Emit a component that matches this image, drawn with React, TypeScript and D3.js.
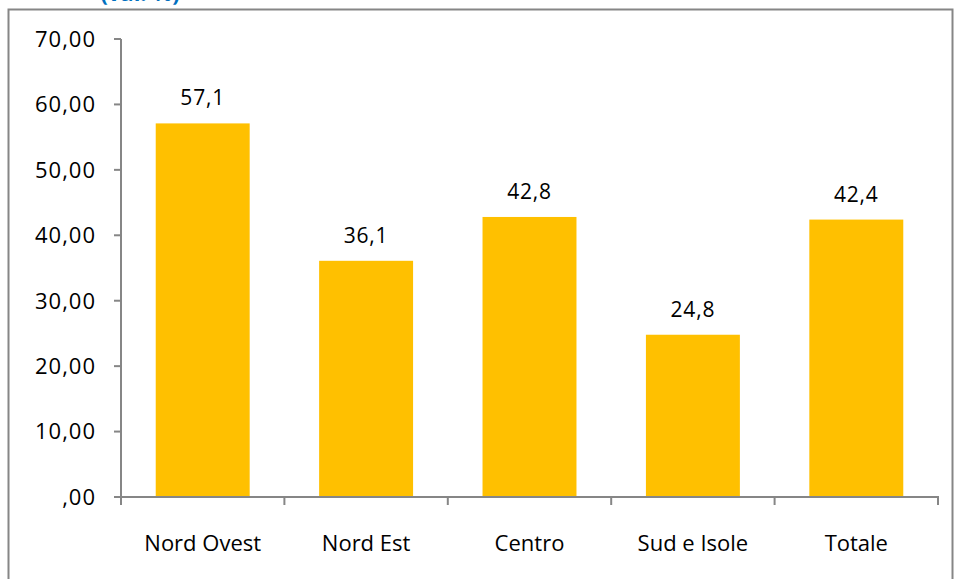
import React from 'react';
import * as d3 from 'd3';

const categories = ['Nord Ovest', 'Nord Est', 'Centro', 'Sud e Isole', 'Totale'];
const values = [57.1, 36.1, 42.8, 24.8, 42.4];
const valueLabels = ['57,1', '36,1', '42,8', '24,8', '42,4'];
const yTicks = [0, 10, 20, 30, 40, 50, 60, 70];
const yTickLabels = [',00', '10,00', '20,00', '30,00', '40,00', '50,00', '60,00', '70,00'];
const subtitle = '(val. %)';

const W = 954;
const H = 579;
const FONT = '"Open Sans", sans-serif';
const AXIS = '#868686';

const App: React.FC = () => {
  const margin = { top: 39, right: 16, bottom: 82, left: 121 };
  const innerW = W - margin.left - margin.right;
  const innerH = H - margin.top - margin.bottom;

  const x = d3.scaleBand<string>().domain(categories).range([0, innerW]).paddingInner(0.425).paddingOuter(0.2125);
  const y = d3.scaleLinear().domain([0, 70]).range([innerH, 0]);
  const step = innerW / categories.length;

  return (
    <svg width={W} height={H} style={{ position: 'absolute', left: 0, top: 0, background: '#fff' }}>
      <rect x={8.5} y={9.5} width={944} height={H} fill="none" stroke={AXIS} strokeWidth={2} />
      <text x={140} y={1} textAnchor="middle" fontFamily={FONT} fontWeight="bold" fontSize={22} fill="#0070C0">
        {subtitle}
      </text>
      <g transform={`translate(${margin.left},${margin.top})`} fontFamily={FONT}>
        {values.map((v, i) => (
          <g key={categories[i]}>
            <rect x={x(categories[i])} y={y(v)} width={x.bandwidth()} height={innerH - y(v)} fill="#FFC000" />
            <text
              x={(x(categories[i]) ?? 0) + x.bandwidth() / 2}
              y={y(v) - 18}
              textAnchor="middle"
              fontSize={21}
              letterSpacing={0.8}
              fill="#000"
            >
              {valueLabels[i]}
            </text>
          </g>
        ))}
        <line x1={0} x2={0} y1={0} y2={innerH} stroke={AXIS} strokeWidth={2} />
        <line x1={-1} x2={innerW + 1} y1={innerH} y2={innerH} stroke={AXIS} strokeWidth={2} />
        {yTicks.map((t, i) => (
          <g key={t}>
            <line x1={-7} x2={0} y1={y(t)} y2={y(t)} stroke={AXIS} strokeWidth={2} />
            <text x={-25} y={y(t)} dy="0.36em" textAnchor="end" fontSize={22} letterSpacing={1} fill="#000">
              {yTickLabels[i]}
            </text>
          </g>
        ))}
        {d3.range(categories.length + 1).map(i => (
          <line key={i} x1={i * step} x2={i * step} y1={innerH} y2={innerH + 8} stroke={AXIS} strokeWidth={2} />
        ))}
        {categories.map(c => (
          <text key={c} x={(x(c) ?? 0) + x.bandwidth() / 2} y={innerH + 54} textAnchor="middle" fontSize={22} fill="#000">
            {c}
          </text>
        ))}
      </g>
    </svg>
  );
};

export default App;
